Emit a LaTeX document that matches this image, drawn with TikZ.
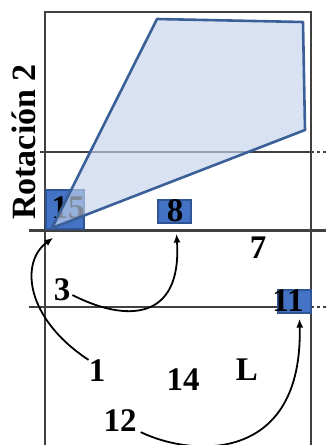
\documentclass[tikz,border=0pt]{standalone}
\usepackage{fontspec}
\setmainfont{Liberation Serif}
\usepackage{xcolor}
\usetikzlibrary{arrows.meta}
\definecolor{gridgray}{RGB}{64,64,64}
\definecolor{boxblue}{RGB}{68,114,196}
\definecolor{boxedge}{RGB}{47,85,151}
\definecolor{zoneblue}{RGB}{196,211,235}
\definecolor{zoneedge}{RGB}{59,96,152}

\begin{document}
\begin{tikzpicture}[x=1pt, y=-1pt,
  court/.style={draw=gridgray, line width=1.6pt},
  netline/.style={draw=gridgray, line width=3pt},
  ext/.style={draw=gridgray, line width=1.2pt, dash pattern=on 3pt off 3pt},
  player/.style={draw=boxedge, fill=boxblue, line width=1.2pt, inner sep=0pt},
  num/.style={inner sep=0pt, font=\fontsize{33}{36}\selectfont\bfseries},
  zone/.style={draw=zoneedge, fill=zoneblue, fill opacity=0.65, line width=2.6pt, line join=round},
  move/.style={-{Latex[length=9pt,width=7pt]}, line width=1.8pt}
]
  \useasboundingbox (0,0) rectangle (326,445);

  % court lines
  \draw[court] (45,445) -- (45,12) -- (311,12) -- (311,445);
  \draw[court, line width=1.2pt] (40,152) -- (311,152);
  \draw[ext] (311,152) -- (326,152);
  \draw[court, line width=1.2pt] (29,307) -- (311,307);
  \draw[ext] (311,307) -- (326,307);
  \draw[netline] (29,230) -- (326,230);

  % players
  \node[player, minimum width=38pt, minimum height=39pt] (b15) at (65,209.5) {};
  \node[num] (n15) at (68,208) {15};
  \node[player, minimum width=33pt, minimum height=23pt] (b8) at (174.5,211.5) {};
  \node[num] (n8) at (175,211) {8};
  \node[player, minimum width=33pt, minimum height=23pt] (b11) at (294.5,301.5) {};
  \node[num] (n11) at (288,301) {11};

  % attack zone
  \draw[zone] (52,228) -- (157,19) -- (303,22) -- (305,130) -- cycle;

  \node[num] (n7) at (258,248) {7};
  \node[num] (n3) at (62,290) {3};
  \node[num] (n1) at (97,371) {1};
  \node[num] (n14) at (183,380) {14};
  \node[num] (nL) at (247,370) {L};
  \node[num] (n12) at (120,421) {12};

  \node[rotate=90, inner sep=0pt, font=\fontsize{34}{36}\selectfont\bfseries] (rot) at (24,142) {Rotación 2};

  % movements
  \draw[move] (n1.north west) .. controls (25,318) and (20,262) .. ([xshift=8pt,yshift=-8pt]b15.south west);
  \draw[move] ([xshift=2pt,yshift=-5pt]n3.east) .. controls (125,322) and (182,322) .. ([xshift=2pt,yshift=-10pt]b8.south);
  \draw[move] ([xshift=4pt]n12.south east) .. controls (195,458) and (303,462) .. ([xshift=5pt,yshift=-5pt]b11.south);
\end{tikzpicture}
\end{document}
